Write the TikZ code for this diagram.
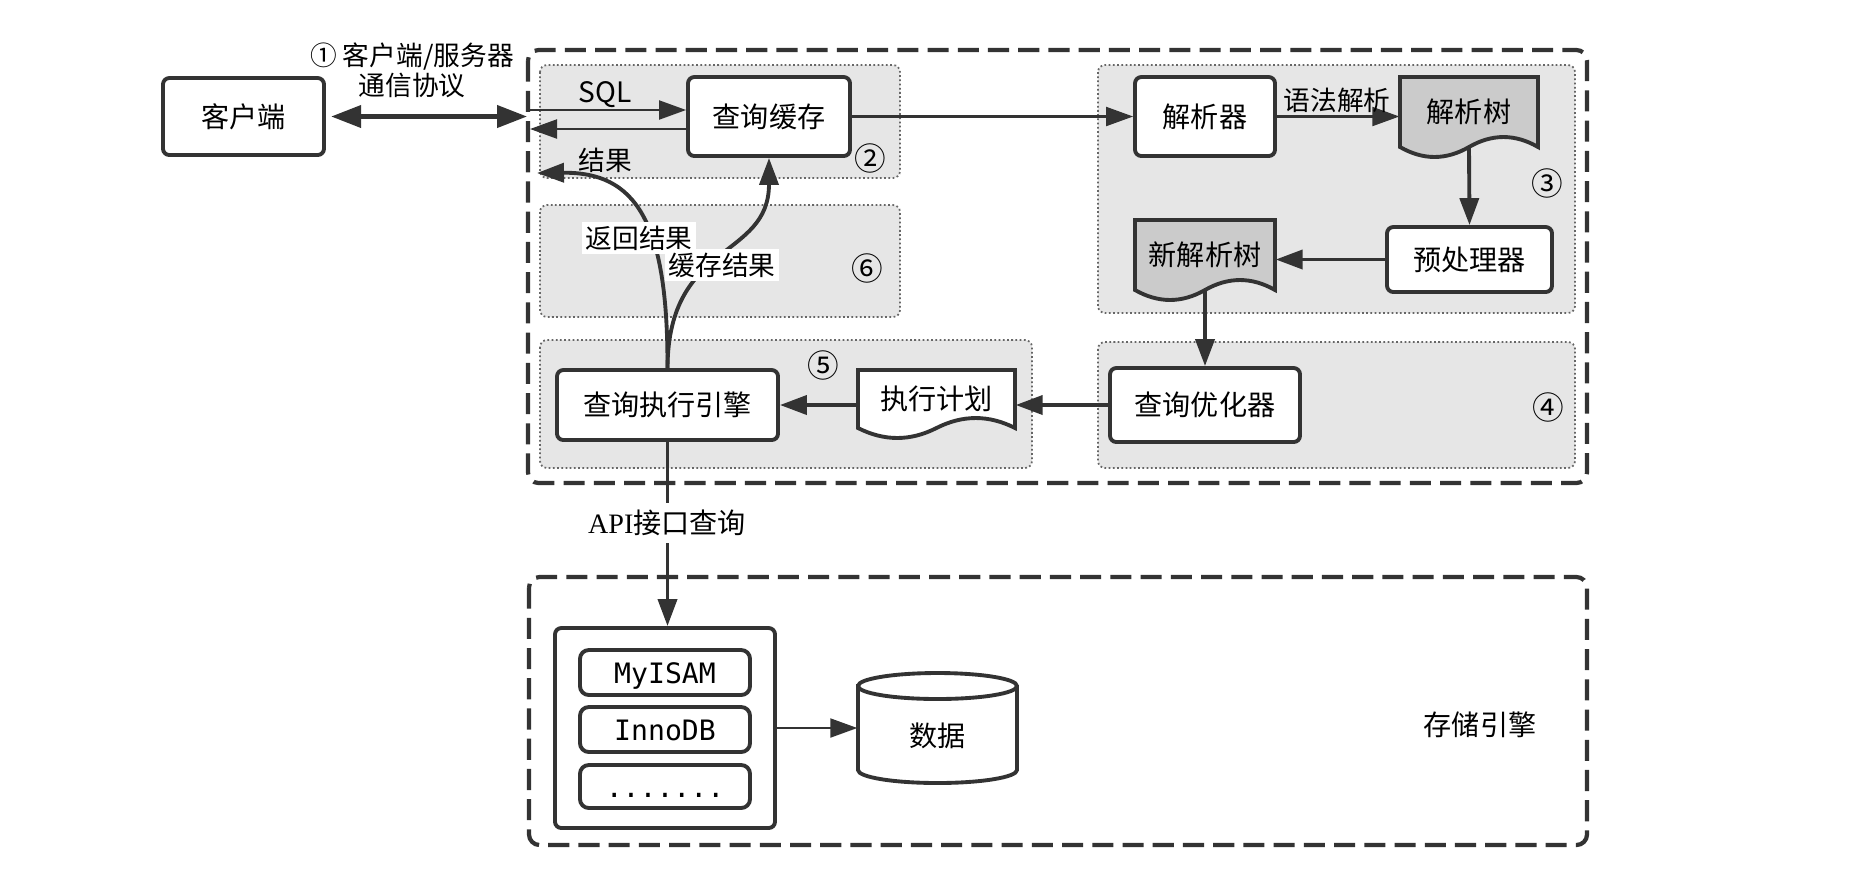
\documentclass[tikz,border=0pt]{standalone}
\usepackage{fontspec}
\newfontfamily\cjk{Noto Sans CJK SC}
\newfontfamily\codefont{DejaVu Sans Mono}
\newfontfamily\apifont{Liberation Serif}
\usepackage{tikz}
\usetikzlibrary{calc}
\usetikzlibrary{arrows.meta}
\definecolor{ink}{HTML}{333333}
\definecolor{stagegray}{HTML}{E6E6E6}
\definecolor{treegray}{HTML}{CBCBCB}
\tikzset{
  procbox/.style={draw=ink, line width=1.1pt, rounded corners=1.8pt, fill=white, inner sep=0pt, font=\cjk\fontsize{8}{9.6}\selectfont},
  enginebox/.style={draw=ink, line width=1.1pt, rounded corners=2.5pt, fill=white, inner sep=0pt, font=\codefont\fontsize{8}{9.6}\selectfont, text height=7pt, text depth=1pt},
  stage/.style={fill=stagegray, draw=ink!75, line width=0.5pt, dash pattern=on 0.5pt off 0.7pt, rounded corners=2pt},
  outerbox/.style={draw=ink, line width=1.2pt, dash pattern=on 6pt off 2.6pt, rounded corners=3pt},
  headarrow/.style={-{Triangle[length=0.27cm,width=0.19cm]}},
  thinline/.style={draw=ink, line width=0.6pt},
  bigline/.style={draw=ink, line width=1.1pt},
  lbl/.style={font=\cjk\fontsize{7.6}{8.6}\selectfont, inner sep=1pt},
  stagenum/.style={font=\cjk\fontsize{9}{10.8}\selectfont, inner sep=0pt},
  doctext/.style={draw=none, inner sep=0pt, font=\cjk\fontsize{8}{9.6}\selectfont},
}
\newcommand{\wavedoc}[6]{%
  \filldraw[bigline, fill=#5] ($(#2)+(-#3/2,#4/2)$) -- ($(#2)+(#3/2,#4/2)$) -- ($(#2)+(#3/2,-#4/2)$)
    .. controls ($(#2)+(#3/3,-#4/2+0.133)$) and ($(#2)+(#3/6,-#4/2+0.133)$) .. ($(#2)+(0,-#4/2)$)
    .. controls ($(#2)+(-#3/6,-#4/2-0.133)$) and ($(#2)+(-#3/3,-#4/2-0.133)$) .. ($(#2)+(-#3/2,-#4/2)$) -- cycle;
  \node[doctext, minimum width=#3cm, minimum height=#4cm] (#1) at (#2) {#6};
}
\newcommand{\stagelabel}[4]{\node[stagenum] (#1) at (#2,#3) {#4};}

\begin{document}
\begin{tikzpicture}
        \useasboundingbox (0,0) rectangle (18.70,-8.68);

        \draw[outerbox] (5.28,-0.50) rectangle (15.87,-4.83);
        \draw[outerbox] (5.29,-5.77) rectangle (15.87,-8.45);

        \filldraw[stage] (5.40,-0.65) rectangle (9.00,-1.78);
        \filldraw[stage] (5.40,-2.05) rectangle (9.00,-3.17);
        \filldraw[stage] (10.98,-0.65) rectangle (15.75,-3.13);
        \filldraw[stage] (5.40,-3.40) rectangle (10.32,-4.68);
        \filldraw[stage] (10.98,-3.42) rectangle (15.75,-4.68);

        \coordinate (srvin) at (5.27,-1.17);
        \coordinate (sqlin) at (5.28,-1.10);
        \coordinate (resout) at (5.30,-1.29);
        \coordinate (retend) at (5.37,-1.73);

        \node[procbox, minimum width=1.61cm, minimum height=0.77cm] (client) at (2.435,-1.165) {客户端};
        \node[procbox, minimum width=1.62cm, minimum height=0.79cm] (cache) at (7.69,-1.165) {查询缓存};
        \node[procbox, minimum width=1.40cm, minimum height=0.79cm] (parser) at (12.05,-1.165) {解析器};
        \wavedoc{tree}{14.69,-1.12}{1.38}{0.70}{treegray}{解析树}
        \node[procbox, minimum width=1.65cm, minimum height=0.65cm] (preproc) at (14.695,-2.595) {预处理器};
        \wavedoc{newtree}{12.05,-2.55}{1.40}{0.70}{treegray}{新解析树}
        \node[procbox, minimum width=1.90cm, minimum height=0.74cm] (optimizer) at (12.05,-4.05) {查询优化器};
        \wavedoc{plan}{9.365,-3.99}{1.57}{0.58}{white}{执行计划}
        \node[procbox, minimum width=2.21cm, minimum height=0.70cm] (engine) at (6.675,-4.05) {查询执行引擎};

        \node[procbox, minimum width=2.20cm, minimum height=2.00cm] (container) at (6.65,-7.28) {};
        \node[enginebox, minimum width=1.70cm, minimum height=0.45cm] (myisam) at (6.65,-6.725) {MyISAM};
        \node[enginebox, minimum width=1.70cm, minimum height=0.45cm] (innodb) at (6.65,-7.295) {InnoDB};
        \node[enginebox, minimum width=1.70cm, minimum height=0.43cm] (moredots) at (6.65,-7.865) {.......};

        \filldraw[bigline, fill=white] (8.58,-6.86) -- (8.58,-7.70) arc[start angle=180, end angle=360, x radius=0.795, y radius=0.13]
            -- (10.17,-6.86) arc[start angle=0, end angle=180, x radius=0.795, y radius=0.13] -- cycle;
        \draw[bigline] (8.58,-6.86) arc[start angle=180, end angle=360, x radius=0.795, y radius=0.13];
        \node[doctext, minimum width=1.59cm, minimum height=0.96cm] (data) at (9.375,-7.36) {数据};

        \draw[bigline, line width=1.2pt, {Triangle[length=0.3cm,width=0.22cm]}-{Triangle[length=0.3cm,width=0.22cm]}, shorten <=1.5pt] (client.east) -- (client.east -| srvin);
        \draw[thinline, headarrow] (sqlin) -- (sqlin -| cache.west);
        \draw[thinline, headarrow] (cache.west |- resout) -- (resout);
        \draw[thinline, headarrow] (cache.east) -- (parser.west);
        \draw[thinline, headarrow] (parser.east) -- (parser.east -| tree.west);
        \draw[bigline, headarrow] (tree.south) -- (preproc.north);
        \draw[bigline, headarrow] (preproc.west) -- (preproc.west -| newtree.east);
        \draw[bigline, headarrow] (newtree.south) -- (optimizer.north);
        \draw[bigline, headarrow] (optimizer.west) -- (optimizer.west -| plan.east);
        \draw[bigline, headarrow] (plan.west |- engine.east) -- (engine.east);
        \draw[bigline, headarrow] (engine.north) .. controls (6.68,-2.20) and (6.35,-1.72) .. (retend);
        \draw[bigline, headarrow] (engine.north) .. controls (6.68,-2.40) and (7.69,-2.60) .. (cache.south);
        \draw[bigline, headarrow] (engine.south) -- (engine.south |- container.north);
        \draw[thinline, headarrow] (container.east) -- (container.east -| data.west);

        \node[lbl, align=center] (protocol) at (4.12,-0.70) {① 客户端/服务器\\通信协议};
        \node[lbl, font=\cjk\fontsize{8}{9.6}\selectfont] (sqltext) at (6.05,-0.95) {SQL};
        \node[lbl] (restext) at (6.05,-1.60) {结果};
        \node[lbl] (syntax) at (13.37,-1.00) {语法解析};
        \node[lbl, fill=white] (backtext) at (6.39,-2.38) {返回结果};
        \node[lbl, fill=white] (storetext) at (7.22,-2.65) {缓存结果};
        \node[lbl, fill=white, inner sep=2pt, font=\fontsize{8}{9.6}\selectfont] (apitext) at (6.67,-5.23) {\apifont API\cjk 接口查询};
        \node[lbl, font=\cjk\fontsize{8}{9.6}\selectfont] (storage) at (14.80,-7.25) {存储引擎};

        \stagelabel{s2}{8.70}{-1.58}{②}
        \stagelabel{s3}{15.47}{-1.83}{③}
        \stagelabel{s4}{15.48}{-4.07}{④}
        \stagelabel{s5}{8.23}{-3.65}{⑤}
        \stagelabel{s6}{8.67}{-2.68}{⑥}
    \end{tikzpicture}
\end{document}
